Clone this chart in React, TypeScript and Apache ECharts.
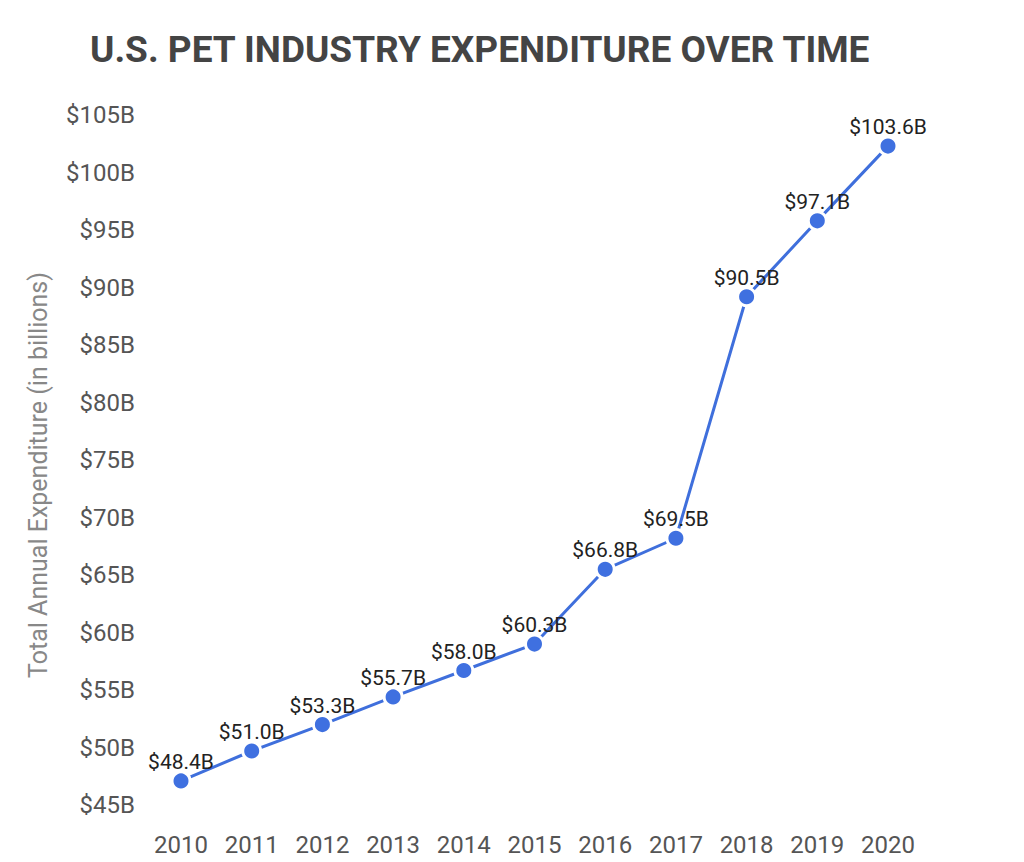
import React, { useEffect, useRef } from "react";
import * as echarts from "echarts";

const years = ["2010", "2011", "2012", "2013", "2014", "2015", "2016", "2017", "2018", "2019", "2020"];
const expenditure = [48.4, 51.0, 53.3, 55.7, 58.0, 60.3, 66.8, 69.5, 90.5, 97.1, 103.6];
const yMin = 45;
const yMax = 105;
const yStep = 5;

export default function App() {
  const ref = useRef<HTMLDivElement>(null);
  useEffect(() => {
    if (!ref.current) return;
    const chart = echarts.init(ref.current, null, { renderer: "svg" });
    chart.setOption({
      animation: false,
      backgroundColor: "#ffffff",
      title: {
        text: "U.S. PET INDUSTRY EXPENDITURE OVER TIME",
        left: 85,
        top: 26,
        textStyle: { fontFamily: "Roboto", fontWeight: "bold", fontSize: 37, color: "#444444" },
      },
      grid: { left: 181, right: 136, top: 130, bottom: 42, containLabel: false },
      xAxis: {
        type: "category",
        data: years,
        boundaryGap: false,
        axisLine: { show: false },
        axisTick: { show: false },
        axisLabel: { interval: 0, fontFamily: "Roboto", fontSize: 24, color: "#555555", margin: 13 },
      },
      yAxis: {
        type: "value",
        min: yMin,
        max: yMax,
        interval: yStep,
        splitLine: { show: false },
        axisLine: { show: false },
        axisTick: { show: false },
        name: "Total Annual Expenditure (in billions)",
        nameLocation: "middle",
        nameGap: 130,
        nameTextStyle: { fontFamily: "Roboto", fontSize: 25, color: "#888888" },
        axisLabel: {
          fontFamily: "Roboto",
          fontSize: 24,
          color: "#555555",
          margin: 46,
          verticalAlign: "bottom",
          lineHeight: 30,
          formatter: (v: number) => "$" + v + "B",
        },
      },
      series: [
        {
          type: "line",
          data: expenditure,
          symbol: "circle",
          symbolSize: 18,
          lineStyle: { color: "#3f6fdc", width: 3 },
          itemStyle: { color: "#3f70e0", borderColor: "#ffffff", borderWidth: 3 },
          label: {
            show: true,
            position: "top",
            distance: -2,
            fontFamily: "Roboto",
            fontSize: 21,
            color: "#222222",
            formatter: (p: any) => "$" + p.value.toFixed(1) + "B",
          },
        },
      ],
    });
    return () => chart.dispose();
  }, []);
  return <div ref={ref} style={{ width: 1024, height: 862, margin: -8 }} />;
}
